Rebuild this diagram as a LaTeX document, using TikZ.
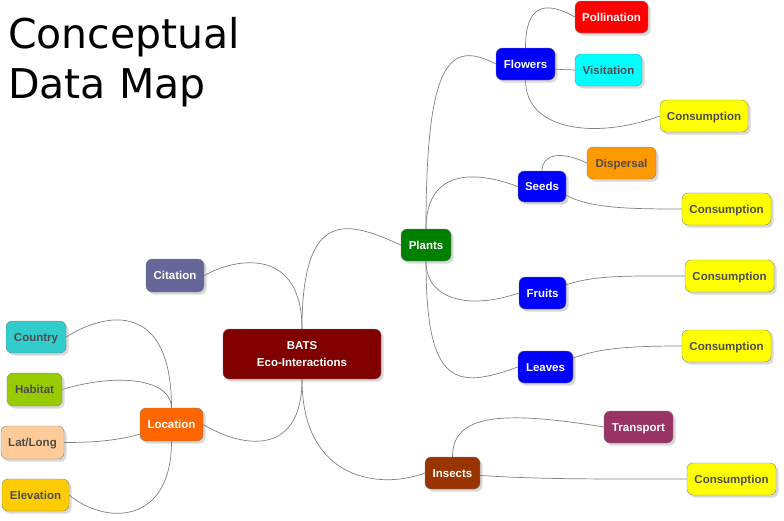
\documentclass[tikz,border=0pt]{standalone}
\usepackage{fontspec}
\usepackage{xcolor}
\usepackage{tikz}
\usetikzlibrary{shadows}
\newfontfamily\mapfont{Liberation Sans}
\newfontfamily\titlefont{DejaVu Sans}
\definecolor{linegray}{HTML}{808080}
\definecolor{darktext}{HTML}{4D4D4D}
\definecolor{batsred}{HTML}{800000}
\definecolor{citeblue}{HTML}{666699}
\definecolor{countrycyan}{HTML}{33CCCC}
\definecolor{habitatgreen}{HTML}{99CC00}
\definecolor{latlongpeach}{HTML}{FFCC99}
\definecolor{elevgold}{HTML}{FFCC00}
\definecolor{locorange}{HTML}{FF6600}
\definecolor{plantgreen}{HTML}{008000}
\definecolor{partblue}{HTML}{0000FF}
\definecolor{pollred}{HTML}{FF0000}
\definecolor{visitcyan}{HTML}{00FFFF}
\definecolor{consyellow}{HTML}{FFFF00}
\definecolor{disporange}{HTML}{FF9900}
\definecolor{transpurple}{HTML}{993366}
\definecolor{insectbrown}{HTML}{993300}

\begin{document}
\begin{tikzpicture}[
  x=1pt, y=-1pt,
  every node/.style={font=\mapfont\bfseries\fontsize{11.5}{17}\selectfont},
  topic/.style={draw=linegray, rounded corners=6pt, align=center, minimum height=32pt, inner sep=0pt, text=white,
    text height=8.2pt, text depth=0pt,
    drop shadow={shadow xshift=2.5pt, shadow yshift=-2.5pt, opacity=0.3}},
  dark/.style={topic, text=darktext},
  link/.style={draw=linegray, line width=0.7pt}
]
\useasboundingbox (0,0) rectangle (784,520);
\node[anchor=north west, inner sep=0pt, align=left, font=\titlefont\fontsize{41}{50}\selectfont] (title) at (8,17) {Conceptual\\Data Map};

% centre and left branch
\node[topic, fill=batsred, minimum width=158pt, minimum height=50pt, text height=25.2pt] (bats) at (302,354) {BATS\\Eco-Interactions};
\node[topic, fill=citeblue, minimum width=58pt, minimum height=33pt] (citation) at (175,275.5) {Citation};
\node[topic, fill=locorange, minimum width=63pt, minimum height=33pt] (location) at (171.5,424.5) {Location};
\node[dark, fill=countrycyan, minimum width=60pt] (country) at (36,337) {Country};
\node[dark, fill=habitatgreen, minimum width=55pt, minimum height=33pt] (habitat) at (34.5,389.5) {Habitat};
\node[dark, fill=latlongpeach, minimum width=63pt, minimum height=33pt] (latlong) at (32.5,442.5) {Lat/Long};
\node[dark, fill=elevgold, minimum width=67pt] (elevation) at (35.5,495) {Elevation};

% plants
\node[topic, fill=plantgreen, minimum width=50pt] (plants) at (426,245) {Plants};
\node[topic, fill=partblue, minimum width=59pt] (flowers) at (525.5,64) {Flowers};
\node[topic, fill=pollred, minimum width=73pt] (pollination) at (611.5,17) {Pollination};
\node[dark, fill=visitcyan, minimum width=67pt] (visitation) at (608.5,70) {Visitation};
\node[dark, fill=consyellow, minimum width=88pt] (flowercons) at (704,116) {Consumption};
\node[topic, fill=partblue, minimum width=48pt, minimum height=31pt] (seeds) at (542,186.5) {Seeds};
\node[dark, fill=disporange, minimum width=69pt] (dispersal) at (621.5,163) {Dispersal};
\node[dark, fill=consyellow, minimum width=89pt] (seedcons) at (726.5,209) {Consumption};
\node[topic, fill=partblue, minimum width=47pt] (fruits) at (542.5,293) {Fruits};
\node[dark, fill=consyellow, minimum width=89pt] (fruitcons) at (729.5,276) {Consumption};
\node[topic, fill=partblue, minimum width=55pt] (leaves) at (545.5,367) {Leaves};
\node[dark, fill=consyellow, minimum width=89pt] (leafcons) at (726.5,346) {Consumption};

% insects
\node[topic, fill=insectbrown, minimum width=55pt] (insects) at (452.5,473) {Insects};
\node[topic, fill=transpurple, minimum width=69pt] (transport) at (638.5,427) {Transport};
\node[dark, fill=consyellow, minimum width=89pt] (insectcons) at (731.5,479) {Consumption};

\draw[link] (bats.north) .. controls +(0,-124) and +(-51,-23) .. (plants.west);
\draw[link] (bats.north) .. controls +(0,-79) and +(36,-20) .. (citation.east);
\draw[link] (bats.south) .. controls +(0,76) and +(42,25) .. (location.east);
\draw[link] (bats.south) .. controls +(0,101) and +(-45,17) .. (insects.west);
\draw[link] (location.north) .. controls +(0,-108) and +(39,-25) .. (country.east);
\draw[link] (location.north) .. controls +(0,-28) and +(58,-17.5) .. (habitat.east);
\draw[link] (location.197) .. controls +(-25,7) and +(26,0) .. (latlong.east);
\draw[link] (location.south) .. controls +(0,84) and +(36,30) .. (elevation.east);
\draw[link] (plants.north) .. controls +(0,-169) and +(-46,-24) .. (flowers.west);
\draw[link] (plants.north) .. controls +(0,-49) and +(-58,-21.5) .. (seeds.west);
\draw[link] (plants.south) .. controls +(0,39) and +(-49,17) .. (fruits.west);
\draw[link] (plants.south) .. controls +(0,124) and +(-63,23) .. (leaves.west);
\draw[link] (flowers.north) .. controls +(0,-43) and +(-30,-17) .. (pollination.west);
\draw[link] (flowers.-10) -- (visitation.west);
\draw[link] (flowers.south) .. controls +(0,50) and +(-65,24) .. (flowercons.west);
\draw[link] (seeds.north) .. controls +(0,-16) and +(-27,-13) .. (dispersal.west);
\draw[link] (seeds.-20) .. controls +(24,13) and +(-52,0) .. (seedcons.west);
\draw[link] (fruits.19) .. controls +(29,-10) and +(-55,0) .. (fruitcons.west);
\draw[link] (leaves.18) .. controls +(27,-10) and +(-52,0) .. (leafcons.west);
\draw[link] (insects.north) .. controls +(0,-42) and +(-104,-17) .. (transport.west);
\draw[link] (insects.-5) .. controls +(60,4) and +(-87,0) .. (insectcons.west);
\end{tikzpicture}
\end{document}
